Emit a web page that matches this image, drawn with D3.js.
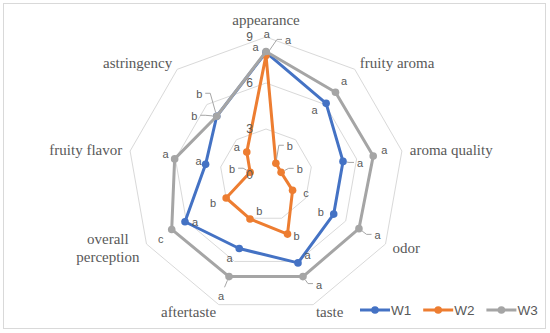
<!DOCTYPE html>
<html>
<head>
<meta charset="utf-8">
<script src="https://d3js.org/d3.v7.min.js"></script>
<style>
  body { margin: 0; background: #fff; }
  svg { display: block; }
  .cat { font-family: "Palatino Linotype", "Book Antiqua", Palatino, "Liberation Serif", serif; font-size: 15px; fill: #595959; }
  .small { font-family: "Liberation Sans", Arial, sans-serif; fill: #595959; }
</style>
</head>
<body>
<svg id="chart" width="550" height="333"></svg>
<script>
const categories = ["appearance", "fruity aroma", "aroma quality", "odor", "taste", "aftertaste", "overall perception", "fruity flavor", "astringency"];
const seriesNames = ["W1", "W2", "W3"];
const w1 = [8.0, 6.1, 5.1, 5.1, 6.1, 5.1, 6.1, 4.0, 5.0];
const w2 = [7.8, 1.0, 1.0, 2.0, 4.1, 3.05, 3.0, 1.05, 1.95];
const w3 = [8.05, 7.05, 7.1, 7.0, 7.05, 7.05, 7.1, 6.05, 5.0];
const w1Letters = ["a", "a", "a", "b", "a", "a", "a", "a", "b"];
const w2Letters = ["a", "b", "b", "c", "b", "b", "b", "b", "a"];
const w3Letters = ["a", "a", "a", "a", "a", "a", "c", "a", "b"];
const tickValues = [0, 3, 6, 9];

const colors = { W1: "#4472c4", W2: "#ed7d31", W3: "#a5a5a5" };

// letter label placement relative to its point: [dx, dy, leader?]
const letterOffsets = {
  W1: [[-10.5, -5.5], [-11.6, 7], [17, 2, 1], [-13, -2], [9.5, -7.7], [-9.8, 10], [10, 0], [-7, -3], [-22.5, 0, 1]],
  W2: [[22, -15, 1], [14, -17, 1], [18.6, -3, 1], [13.4, 2.6], [9, 2], [9.4, -7.6], [-13, 5], [-18, -3, 1], [-10, -5]],
  W3: [[0.7, -18], [8.5, -11], [11, -6], [18.6, 6.7, 1], [16, 8, 1], [-8, 19, 1], [-11, 10], [-9, -5], [-17.5, -22, 1]]
};

const series = [
  { name: "W1", values: w1, letters: w1Letters },
  { name: "W2", values: w2, letters: w2Letters },
  { name: "W3", values: w3, letters: w3Letters }
];

const svg = d3.select("#chart");
const cx = 266, cy = 175, R = 138;

svg.append("rect").attr("x", 3.5).attr("y", 3.5).attr("width", 542).attr("height", 325)
  .attr("fill", "none").attr("stroke", "#d9d9d9");

const r = d3.scaleLinear().domain([0, 9]).range([0, R]);
const angle = d3.scaleLinear().domain([0, categories.length]).range([0, 2 * Math.PI]);
const pos = (i, v) => [cx + r(v) * Math.sin(angle(i)), cy - r(v) * Math.cos(angle(i))];

const g = svg.append("g");

// grid
tickValues.filter(t => t > 0).forEach(t => {
  g.append("path")
    .attr("d", d3.line()(categories.map((c, i) => pos(i, t))) + "Z")
    .attr("fill", "none").attr("stroke", "#d9d9d9").attr("stroke-width", 1);
});

// category labels
categories.forEach((c, i) => {
  const a = angle(i), s = Math.sin(a), co = Math.cos(a);
  let [x, y] = pos(i, 9);
  x += 8 * s; y -= 8 * co;
  if (Math.abs(s) < 0.1 && co > 0) y -= 9;
  const anchor = s > 0.1 ? "start" : s < -0.1 ? "end" : "middle";
  const words = c === "overall perception" ? ["overall", "perception"] : [c];
  const t = g.append("text").attr("class", "cat").attr("text-anchor", words.length > 1 ? "middle" : anchor);
  const lh = 18;
  words.forEach((w, k) => {
    t.append("tspan").attr("x", x).attr("y", y + (k - (words.length - 1) / 2) * lh)
      .attr("dominant-baseline", "central").text(w);
  });
  if (words.length > 1) {
    const wmax = d3.max(t.selectAll("tspan").nodes(), n => n.getComputedTextLength());
    const nx = anchor === "end" ? x - wmax / 2 : x + wmax / 2;
    t.selectAll("tspan").attr("x", nx);
  }
});

// series
const line = d3.line();
series.forEach(sr => {
  const pts = sr.values.map((v, i) => pos(i, v));
  g.append("path").attr("d", line(pts) + "Z")
    .attr("fill", "none").attr("stroke", colors[sr.name]).attr("stroke-width", 3).attr("stroke-linejoin", "round");
  g.selectAll(null).data(pts).enter().append("circle")
    .attr("cx", d => d[0]).attr("cy", d => d[1]).attr("r", 3.8)
    .attr("fill", colors[sr.name]);
});

// tick labels
tickValues.forEach(t => {
  g.append("text").attr("class", "small").attr("x", cx - 13).attr("y", cy - r(t))
    .attr("text-anchor", "end").attr("dominant-baseline", "central")
    .attr("font-size", 12).text(t);
});

// letter labels
series.forEach(sr => {
  sr.values.forEach((v, i) => {
    const [px, py] = pos(i, v);
    const off = letterOffsets[sr.name][i];
    const lx = px + off[0], ly = py + off[1];
    if (off[2]) {
      const dx = lx - px, dy = ly - py;
      let d;
      if (Math.abs(dy) > 2 * Math.abs(dx)) {
        const len = Math.hypot(dx, dy);
        d = d3.line()([[px + dx / len * 4, py + dy / len * 4], [lx - dx / len * 9, ly - dy / len * 9]]);
      } else {
        const side = dx >= 0 ? 1 : -1;
        const ex = lx - side * 11, ey = ly - 1;
        const len = Math.hypot(ex - px, ey - py);
        d = d3.line()([[px + (ex - px) / len * 4, py + (ey - py) / len * 4], [ex, ey], [lx - side * 6, ey]]);
      }
      g.append("path").attr("d", d).attr("fill", "none").attr("stroke", "#a6a6a6").attr("stroke-width", 1);
    }
    g.append("text").attr("class", "small").attr("x", lx).attr("y", ly)
      .attr("text-anchor", "middle").attr("dominant-baseline", "central")
      .attr("font-size", 11).text(sr.letters[i]);
  });
});

// legend
const legend = svg.append("g").attr("transform", "translate(360,310)");
seriesNames.forEach((n, k) => {
  const lg = legend.append("g").attr("transform", `translate(${k * 63.2},0)`);
  lg.append("line").attr("x1", 0).attr("x2", 30).attr("y1", 0).attr("y2", 0)
    .attr("stroke", colors[n]).attr("stroke-width", 3);
  lg.append("circle").attr("cx", 15).attr("cy", 0).attr("r", 3.8).attr("fill", colors[n]);
  lg.append("text").attr("class", "small").attr("x", 31).attr("y", 0)
    .attr("dominant-baseline", "central").attr("font-size", 13.5).text(n);
});
</script>
</body>
</html>
